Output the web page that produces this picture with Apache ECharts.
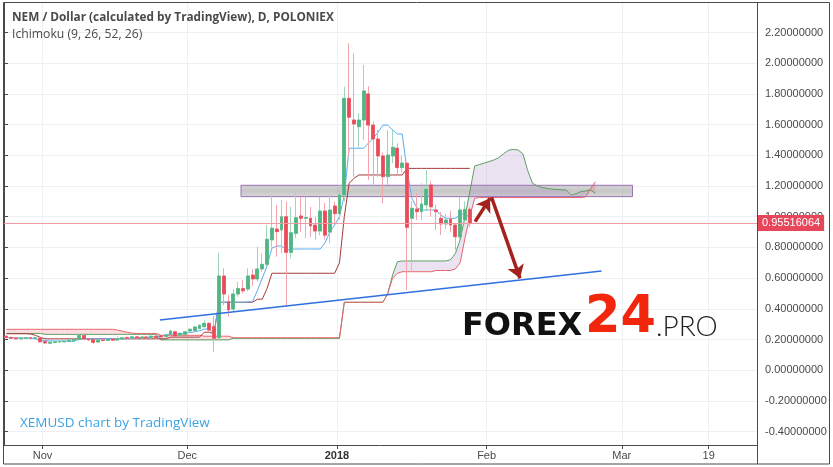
<!DOCTYPE html>
<html><head><meta charset="utf-8">
<script src="https://cdn.jsdelivr.net/npm/echarts@6/dist/echarts.min.js"></script>
<style>html,body{margin:0;padding:0;background:#fff}#c{width:833px;height:467px}</style>
</head><body><div id="c"></div>
<script>
// ---------- DATA ----------
const firstDay = '2017-10-24';
const dayCount = 156;
const tickDays = ['2017-11-01','2017-12-01','2018-01-01','2018-02-01','2018-03-01','2018-03-19'];
const tickTexts = ['Nov','Dec','2018','Feb','Mar','19'];

const open = [0.222,0.214,0.210,0.205,0.208,0.212,0.208,0.210,0.188,0.176,
0.181,0.184,0.186,0.188,0.194,0.200,0.226,0.204,0.200,0.184,
0.197,0.194,0.202,0.197,0.203,0.214,0.210,0.218,0.212,0.217,
0.212,0.222,0.226,0.220,0.234,0.251,0.228,0.234,0.256,0.258,
0.273,0.284,0.306,0.284,0.212,0.614,0.447,0.399,0.497,0.532,
0.529,0.620,0.595,0.660,0.690,0.849,0.920,0.914,1.000,0.768,
0.892,1.005,0.990,0.990,0.946,0.907,1.037,0.900,1.070,1.020,
1.142,1.771,1.630,1.586,1.630,1.800,1.597,1.506,1.396,1.261,
1.396,1.446,1.320,1.348,0.990,1.050,1.033,1.077,1.207,1.044,
0.990,0.953,0.985,0.946,0.870,0.979,1.048];
const close = [0.214,0.208,0.205,0.210,0.212,0.208,0.212,0.186,0.178,0.183,
0.186,0.188,0.190,0.196,0.202,0.228,0.204,0.198,0.182,0.196,
0.194,0.200,0.196,0.204,0.212,0.208,0.218,0.212,0.217,0.212,
0.222,0.213,0.218,0.230,0.256,0.223,0.241,0.251,0.267,0.282,
0.293,0.306,0.262,0.208,0.614,0.497,0.393,0.497,0.532,0.518,
0.614,0.595,0.660,0.690,0.853,0.925,0.903,1.000,0.768,0.896,
0.994,0.990,0.995,0.940,0.907,1.037,0.880,1.044,1.020,1.142,
1.771,1.648,1.604,1.630,1.819,1.597,1.506,1.396,1.261,1.402,
1.452,1.320,1.350,0.931,1.055,1.033,1.083,1.179,1.065,1.033,
0.953,0.979,0.946,0.870,1.044,1.048,0.955];
const low = [0.208,0.204,0.200,0.202,0.205,0.204,0.205,0.182,0.170,0.170,
0.176,0.180,0.182,0.185,0.190,0.196,0.200,0.192,0.172,0.180,
0.188,0.190,0.192,0.194,0.200,0.204,0.206,0.208,0.209,0.208,
0.209,0.209,0.214,0.216,0.230,0.218,0.222,0.228,0.250,0.254,
0.268,0.280,0.255,0.121,0.205,0.425,0.350,0.378,0.480,0.500,
0.515,0.550,0.580,0.640,0.680,0.800,0.740,0.762,0.414,0.730,
0.860,0.900,0.860,0.870,0.850,0.880,0.850,0.827,0.960,0.980,
1.100,1.391,1.260,1.450,1.500,1.239,1.196,1.261,1.088,1.207,
1.350,1.280,1.290,0.523,0.642,0.979,0.980,1.040,1.000,0.914,
0.881,0.920,0.900,0.783,0.850,0.950,0.930];
const high = [0.226,0.220,0.214,0.214,0.216,0.215,0.216,0.213,0.192,0.188,
0.190,0.192,0.194,0.199,0.206,0.236,0.240,0.210,0.204,0.200,
0.202,0.204,0.206,0.222,0.216,0.218,0.222,0.222,0.221,0.220,
0.226,0.226,0.232,0.234,0.262,0.256,0.246,0.256,0.272,0.288,
0.300,0.325,0.312,0.354,0.766,0.664,0.490,0.530,0.577,0.590,
0.664,0.660,0.805,0.760,0.946,1.142,1.077,1.109,1.100,1.065,
1.163,1.130,1.130,1.065,1.000,1.130,1.090,1.142,1.098,1.207,
1.847,2.130,2.064,1.675,1.988,1.850,1.620,1.565,1.420,1.565,
1.565,1.478,1.400,1.360,1.100,1.153,1.218,1.304,1.230,1.080,
1.030,1.020,1.040,0.960,1.130,1.100,1.060];

// Ichimoku lines
const tenkan = [0.213,0.213,0.212,0.211,0.210,0.209,0.205,0.198,0.193,0.192,
0.191,0.191,0.191,0.188,0.188,0.203,0.205,0.205,0.204,0.204,
0.204,0.206,0.206,0.206,0.206,0.207,0.208,0.212,0.214,0.215,
0.216,0.218,0.222,0.232,0.236,0.236,0.238,0.240,0.246,0.250,
0.258,0.268,0.270,0.238,0.440,0.443,0.443,0.443,0.443,0.443,
0.445,0.447,0.520,0.600,0.680,0.795,0.810,0.810,0.783,0.790,
0.790,0.790,0.790,0.790,0.790,0.790,0.830,0.900,0.946,1.000,
1.140,1.446,1.446,1.446,1.446,1.480,1.511,1.550,1.597,1.597,
1.565,1.539,1.539,1.300,1.120,1.060,1.044,1.044,1.044,1.044,
1.011,0.990,0.990,0.990,1.011,1.022,0.990];
const kijun = [0.238,0.238,0.238,0.238,0.238,0.236,0.228,0.215,0.205,0.205,
0.205,0.205,0.205,0.205,0.205,0.205,0.205,0.205,0.205,0.205,
0.205,0.205,0.205,0.205,0.205,0.205,0.205,0.205,0.205,0.205,
0.205,0.205,0.205,0.205,0.216,0.216,0.216,0.216,0.216,0.216,
0.216,0.248,0.248,0.237,0.443,0.443,0.443,0.443,0.443,0.443,
0.443,0.443,0.463,0.463,0.533,0.632,0.632,0.632,0.632,0.632,
0.632,0.632,0.632,0.632,0.632,0.632,0.632,0.632,0.632,0.700,
1.000,1.218,1.250,1.272,1.272,1.272,1.272,1.272,1.272,1.272,
1.272,1.272,1.272,1.315,1.315,1.315,1.315,1.315,1.315,1.315,
1.315,1.315,1.315,1.315,1.315,1.315,1.315];
const spanA = [0.240,0.240,0.240,0.240,0.240,0.240,0.240,0.240,0.234,0.234,
0.234,0.234,0.234,0.234,0.234,0.234,0.234,0.234,0.234,0.234,
0.234,0.234,0.234,0.234,0.234,0.234,0.234,0.234,0.234,0.234,
0.234,0.234,0.198,0.198,0.198,0.198,0.198,0.198,0.198,0.198,
0.198,0.198,0.198,0.198,0.198,0.198,0.198,0.208,0.208,0.208,
0.208,0.208,0.208,0.208,0.208,0.208,0.208,0.208,0.208,0.208,
0.208,0.208,0.208,0.208,0.208,0.208,0.208,0.208,0.208,0.208,
0.443,0.443,0.443,0.443,0.443,0.443,0.443,0.443,0.443,0.500,
0.620,0.707,0.712,0.712,0.712,0.712,0.712,0.712,0.712,0.712,
0.712,0.712,0.720,0.760,0.850,1.000,1.160,1.330,1.340,1.350,
1.359,1.370,1.385,1.410,1.433,1.439,1.435,1.410,1.300,1.218,
1.200,1.190,1.185,1.180,1.178,1.176,1.174,1.142,1.150,1.163,
1.168,1.174,1.153];
const spanB = [0.267,0.267,0.267,0.267,0.267,0.267,0.267,0.267,0.267,0.267,
0.267,0.267,0.267,0.267,0.267,0.267,0.267,0.267,0.267,0.267,
0.267,0.267,0.267,0.262,0.255,0.248,0.242,0.240,0.240,0.240,
0.240,0.240,0.228,0.228,0.228,0.228,0.228,0.228,0.228,0.228,
0.228,0.222,0.222,0.222,0.222,0.222,0.222,0.212,0.212,0.212,
0.212,0.212,0.212,0.212,0.212,0.212,0.212,0.212,0.212,0.212,
0.212,0.212,0.212,0.212,0.212,0.212,0.212,0.212,0.212,0.212,
0.443,0.443,0.443,0.443,0.443,0.443,0.443,0.443,0.443,0.500,
0.600,0.632,0.642,0.642,0.642,0.642,0.642,0.642,0.642,0.650,
0.650,0.650,0.650,0.660,0.700,0.860,1.000,1.120,1.125,1.125,
1.125,1.125,1.125,1.125,1.125,1.125,1.125,1.125,1.125,1.125,
1.125,1.125,1.125,1.125,1.125,1.125,1.125,1.125,1.125,1.125,
1.130,1.180,1.228];

// Drawn annotations (in data units: x = day offset from firstDay, y = price)
const trendLine = [[32.3, 0.3276], [123.8, 0.6467]];
const zoneX = [49.1, 130.2];
const zoneY = [1.131, 1.205];
const arrowUp = [[97.6, 0.968], [100.7, 1.120]];
const arrowDown = [[101.0, 1.127], [106.9, 0.599]];
const lastPrice = 0.95516064;

// ---------- BUILD ----------
const cats = [];
for (let i = 0; i < dayCount; i++) {
  const d = new Date(Date.UTC(2017, 9, 24 + i));
  cats.push(d.toISOString().slice(0, 10));
}
const tickIdx = tickDays.map(d => cats.indexOf(d));
const tickFn = (i) => tickIdx.indexOf(i) >= 0;

const wickData = open.map((o, i) => [o, close[i], low[i], high[i]]);
const bodyData = open.map((o, i) => [o, close[i], Math.min(o, close[i]), Math.max(o, close[i])]);
const upBase = spanB.slice();
const upDiff = spanA.map((a, i) => Math.max(a - spanB[i], 0));
const dnBase = spanA.slice();
const dnDiff = spanB.map((b, i) => Math.max(b - spanA[i], 0));

const FONT = '"Liberation Sans", Arial, sans-serif';
const chart = echarts.init(document.getElementById('c'));
const hidden = { lineStyle: { opacity: 0 }, symbol: 'none', silent: true };

chart.setOption({
  animation: false,
  backgroundColor: '#ffffff',
  textStyle: { fontFamily: FONT },
  grid: { left: 4, right: 76, top: 3, bottom: 22, containLabel: false },
  xAxis: [{
    type: 'category', data: cats, boundaryGap: true,
    axisLine: { show: true, onZero: false, lineStyle: { color: '#4a4a4a', width: 1 } },
    axisTick: { show: true, interval: tickFn, length: 4, lineStyle: { color: '#4a4a4a' } },
    axisLabel: {
      show: true, interval: tickFn, color: '#4a4a4a', fontSize: 11, margin: 5,
      padding: [0, 5, 0, 0], fontFamily: FONT,
      formatter: (v) => {
        const t = tickTexts[tickDays.indexOf(v)];
        return t === '2018' ? '{b|2018}' : t;
      },
      rich: { b: { fontWeight: 'bold', color: '#333', fontSize: 11, fontFamily: FONT } }
    },
    splitLine: { show: true, interval: tickFn, lineStyle: { color: '#edf0f5' } }
  }, {
    type: 'value', min: 0, max: dayCount, show: false
  }],
  yAxis: [{
    type: 'value', position: 'right', min: -0.4865, max: 2.392,
    splitNumber: 14, minInterval: 0.2, maxInterval: 0.2, scale: false,
    axisLine: { show: true, lineStyle: { color: '#4a4a4a' } },
    axisTick: { show: true, length: 4, lineStyle: { color: '#4a4a4a' } },
    axisLabel: {
      color: '#4a4a4a', fontSize: 11, margin: 8, fontFamily: FONT,
      showMinLabel: false, showMaxLabel: false,
      formatter: (v) => v.toFixed(8)
    },
    splitLine: { show: true, showMinLine: false, showMaxLine: false, lineStyle: { color: '#edf0f5' } }
  }],
  series: [
    Object.assign({ type: 'line', name: 'upBase', data: upBase, stack: 'up', z: 1 }, hidden),
    Object.assign({ type: 'line', name: 'upDiff', data: upDiff, stack: 'up', z: 1,
      areaStyle: { color: 'rgba(160,110,190,0.28)' } }, hidden),
    Object.assign({ type: 'line', name: 'dnBase', data: dnBase, stack: 'dn', z: 1 }, hidden),
    Object.assign({ type: 'line', name: 'dnDiff', data: dnDiff, stack: 'dn', z: 1,
      areaStyle: { color: 'rgba(236,90,110,0.30)' } }, hidden),
    { type: 'line', name: 'Lead 1', data: spanA, symbol: 'none', z: 2,
      lineStyle: { color: '#5f9f5f', width: 1 } },
    { type: 'line', name: 'Lead 2', data: spanB, symbol: 'none', z: 2,
      lineStyle: { color: '#e8646c', width: 1 } },
    { type: 'line', name: 'Base', data: kijun, symbol: 'none', z: 2,
      lineStyle: { color: '#a33a3a', width: 1 } },
    { type: 'line', name: 'Conversion', data: tenkan, symbol: 'none', z: 2,
      lineStyle: { color: '#5aaef0', width: 1 } },
    { type: 'candlestick', name: 'wicks', data: wickData, barWidth: 3.4, z: 3,
      itemStyle: { color: '#9fd6b8', color0: '#f5a3ab', borderColor: '#9fd6b8', borderColor0: '#f5a3ab', borderWidth: 1 } },
    { type: 'candlestick', name: 'bodies', data: bodyData, barWidth: 3.4, z: 4,
      itemStyle: { color: '#4fb583', color0: '#ea4a5a', borderColor: '#4fb583', borderColor0: '#ea4a5a', borderWidth: 0.6 } },
    { type: 'line', name: 'trend', xAxisIndex: 1, data: trendLine, symbol: 'none', z: 5,
      lineStyle: { color: '#2f6fe0', width: 1.3 } },
    { type: 'line', name: 'zone', xAxisIndex: 1, data: [], z: 5,
      markArea: {
        silent: true,
        itemStyle: {
          color: { type: 'linear', x: 0, y: 0, x2: 0, y2: 1, colorStops: [
            { offset: 0, color: 'rgba(170,170,170,0.45)' },
            { offset: 0.5, color: 'rgba(130,130,130,0.45)' },
            { offset: 1, color: 'rgba(170,170,170,0.45)' }] },
          borderColor: '#9a70b4', borderWidth: 1
        },
        data: [[{ coord: [zoneX[0], zoneY[1]] }, { coord: [zoneX[1], zoneY[0]] }]]
      },
      markLine: {
        silent: true, symbol: 'none',
        lineStyle: { color: '#f29aa3', width: 1, type: 'solid' },
        label: {
          show: true, position: 'end', distance: 1, formatter: lastPrice.toFixed(8),
          backgroundColor: '#e8475b', color: '#ffffff', padding: [3, 4, 2, 4], fontSize: 11, fontFamily: FONT
        },
        data: [{ yAxis: lastPrice }]
      }
    },
    { type: 'line', name: 'arrows', xAxisIndex: 1, data: [], z: 6,
      markLine: {
        silent: true, symbol: ['none', 'arrow'], symbolSize: 13,
        lineStyle: { color: '#a5211c', width: 3.5, type: 'solid' },
        label: { show: false },
        data: [
          [{ coord: arrowUp[0] }, { coord: arrowUp[1] }],
          [{ coord: arrowDown[0] }, { coord: arrowDown[1] }]
        ]
      }
    }
  ],
  graphic: [
    { type: 'rect', z: 100, silent: true, shape: { x: 3.5, y: 2.5, width: 826, height: 461.5 },
      style: { fill: 'none', stroke: '#4a4a4a', lineWidth: 1 } },
    { type: 'line', z: 100, silent: true, shape: { x1: 757.5, y1: 2.5, x2: 757.5, y2: 464 },
      style: { stroke: '#4a4a4a', lineWidth: 1 } },
    { type: 'text', z: 100, left: 12, top: 12, style: { text: 'NEM / Dollar (calculated by TradingView), D, POLONIEX',
      fill: '#4a4a4a', font: 'bold 11.8px "Open Sans", sans-serif' } },
    { type: 'text', z: 100, left: 12, top: 29, style: { text: 'Ichimoku (9, 26, 52, 26)',
      fill: '#4a4a4a', font: '12.2px "Open Sans", sans-serif' } },
    { type: 'text', z: 100, left: 20, top: 416, style: { text: 'XEMUSD chart by TradingView',
      fill: '#3ba3e4', font: '13.5px "Open Sans", sans-serif' } },
    { type: 'text', z: 100, left: 462, top: 311, style: { text: 'FOREX',
      fill: '#111111', font: 'bold 32px "DejaVu Sans", sans-serif' } },
    { type: 'text', z: 100, left: 585, top: 293, style: { text: '24',
      fill: '#f2260c', font: 'bold 51px "DejaVu Sans", sans-serif' } },
    { type: 'text', z: 100, left: 656, top: 313, style: { text: '.PRO',
      fill: '#222222', font: '300 28px Lato, "Liberation Sans", sans-serif' } }
  ]
});
</script>
</body></html>
